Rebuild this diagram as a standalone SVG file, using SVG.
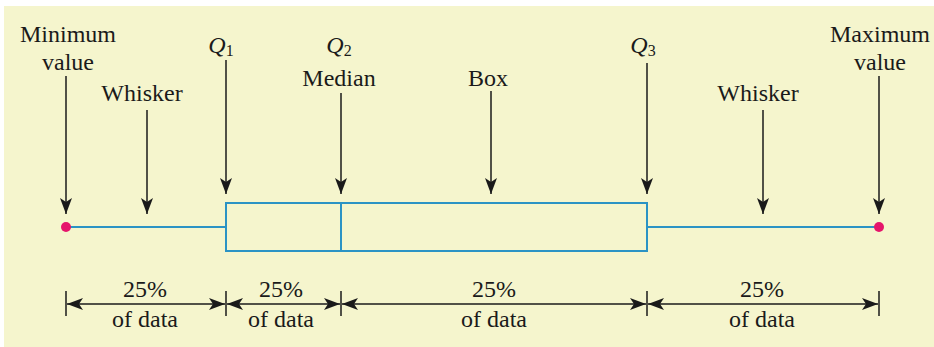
<svg xmlns="http://www.w3.org/2000/svg" width="934" height="347" viewBox="0 0 934 347">
<style>
.t{font-family:"Liberation Serif","Times New Roman",serif;font-size:24px;fill:#1a1a1a;text-anchor:middle}
.q{font-style:italic}
.sub{font-size:16px;font-style:normal}
.ar{stroke:#1a1a1a;stroke-width:1.5;fill:none;marker-end:url(#ah)}
.dim{stroke:#1a1a1a;stroke-width:1.5;fill:none;marker-start:url(#ah);marker-end:url(#ah)}
.tick{stroke:#1a1a1a;stroke-width:1.5}
.bx{stroke:#2b93c4;stroke-width:2;fill:none}
.dot{fill:#e5156b}
</style>
<defs>
<marker id="ah" viewBox="0 0 16 12" refX="16" refY="6" markerWidth="16" markerHeight="12" markerUnits="userSpaceOnUse" orient="auto-start-reverse">
<path d="M0,0 L16,6 L0,12 L4,6 Z" fill="#1a1a1a"/>
</marker>
</defs>
<rect x="4" y="6" width="930" height="341" fill="#f5f5cd"/>

<g id="connectors">
<line class="ar" x1="66" y1="76" x2="66" y2="214"/>
<line class="ar" x1="147" y1="110" x2="147" y2="214"/>
<line class="ar" x1="226" y1="60" x2="226" y2="194"/>
<line class="ar" x1="341" y1="93" x2="341" y2="194"/>
<line class="ar" x1="491" y1="91" x2="491" y2="194"/>
<line class="ar" x1="647" y1="63" x2="647" y2="194"/>
<line class="ar" x1="763" y1="110" x2="763" y2="214"/>
<line class="ar" x1="879" y1="76" x2="879" y2="214"/>
</g>

<g id="boxplot">
<line class="bx" x1="66" y1="227" x2="226" y2="227"/>
<line class="bx" x1="647" y1="227" x2="879" y2="227"/>
<rect class="bx" x="226" y="203" width="421" height="48"/>
<line class="bx" x1="341" y1="203" x2="341" y2="251"/>
<circle class="dot" cx="66" cy="227" r="5"/>
<circle class="dot" cx="879" cy="227" r="5"/>
</g>

<g id="min-label"><text class="t" x="68" y="42">Minimum</text><text class="t" x="68" y="70">value</text></g>
<g id="whisker-left-label"><text class="t" x="142" y="101">Whisker</text></g>
<g id="q1-label"><text class="t q" x="221" y="53">Q<tspan class="sub" dy="3">1</tspan></text></g>
<g id="q2-label"><text class="t q" x="339" y="53">Q<tspan class="sub" dy="3">2</tspan></text></g>
<g id="median-label"><text class="t" x="339" y="86">Median</text></g>
<g id="box-label"><text class="t" x="488" y="86">Box</text></g>
<g id="q3-label"><text class="t q" x="643" y="53">Q<tspan class="sub" dy="3">3</tspan></text></g>
<g id="whisker-right-label"><text class="t" x="758" y="101">Whisker</text></g>
<g id="max-label"><text class="t" x="880" y="42">Maximum</text><text class="t" x="880" y="70">value</text></g>

<g id="dimensions">
<line class="tick" x1="66" y1="291" x2="66" y2="316"/>
<line class="tick" x1="226" y1="291" x2="226" y2="316"/>
<line class="tick" x1="341" y1="291" x2="341" y2="316"/>
<line class="tick" x1="647" y1="291" x2="647" y2="316"/>
<line class="tick" x1="879" y1="291" x2="879" y2="316"/>
<line class="dim" x1="67" y1="304" x2="225" y2="304"/>
<line class="dim" x1="227" y1="304" x2="340" y2="304"/>
<line class="dim" x1="342" y1="304" x2="646" y2="304"/>
<line class="dim" x1="648" y1="304" x2="878" y2="304"/>
</g>
<g id="seg1"><text class="t" x="145" y="297">25%</text><text class="t" x="145" y="327">of data</text></g>
<g id="seg2"><text class="t" x="281" y="297">25%</text><text class="t" x="281" y="327">of data</text></g>
<g id="seg3"><text class="t" x="494" y="297">25%</text><text class="t" x="494" y="327">of data</text></g>
<g id="seg4"><text class="t" x="762" y="297">25%</text><text class="t" x="762" y="327">of data</text></g>
</svg>
